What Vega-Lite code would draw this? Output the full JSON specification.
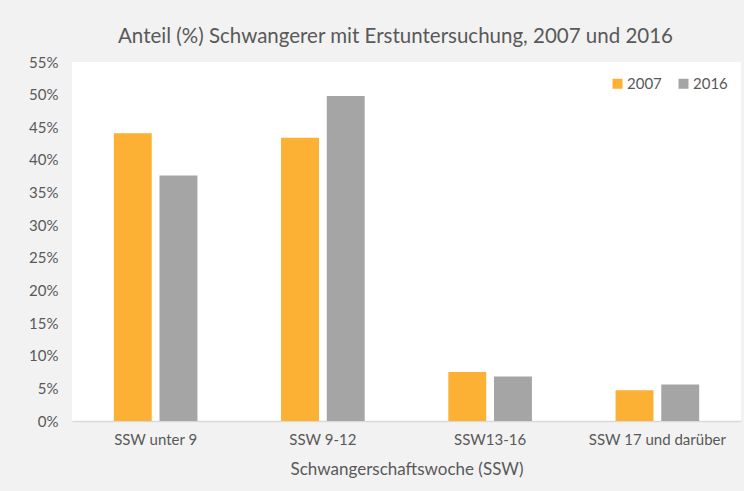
{
  "$schema": "https://vega.github.io/schema/vega-lite/v6.json",
  "width": 669,
  "height": 359,
  "autosize": {"type": "none"},
  "padding": {"left": 72, "top": 62, "right": 3, "bottom": 70},
  "background": "#f2f2f2",
  "title": {
    "text": "Anteil (%) Schwangerer mit Erstuntersuchung, 2007 und 2016",
    "font": "Lato",
    "fontSize": 20.5,
    "fontWeight": "normal",
    "color": "#595959",
    "anchor": "middle",
    "dx": -11,
    "offset": 8
  },
  "data": {
    "values": [
      {"woche": "SSW unter 9", "jahr": "2007", "anteil": 0.441},
      {"woche": "SSW unter 9", "jahr": "2016", "anteil": 0.376},
      {"woche": "SSW 9-12", "jahr": "2007", "anteil": 0.434},
      {"woche": "SSW 9-12", "jahr": "2016", "anteil": 0.498},
      {"woche": "SSW13-16", "jahr": "2007", "anteil": 0.075},
      {"woche": "SSW13-16", "jahr": "2016", "anteil": 0.068},
      {"woche": "SSW 17 und darüber", "jahr": "2007", "anteil": 0.047},
      {"woche": "SSW 17 und darüber", "jahr": "2016", "anteil": 0.056}
    ]
  },
  "mark": {"type": "bar"},
  "encoding": {
    "x": {
      "field": "woche",
      "type": "nominal",
      "sort": ["SSW unter 9", "SSW 9-12", "SSW13-16", "SSW 17 und darüber"],
      "scale": {"paddingInner": 0.5, "paddingOuter": 0.25},
      "axis": {
        "title": "Schwangerschaftswoche (SSW)",
        "labelAngle": 0,
        "labelFont": "Lato",
        "labelFontSize": 15,
        "labelColor": "#595959",
        "labelPadding": 11,
        "titleFont": "Lato",
        "titleFontSize": 17,
        "titleFontWeight": "normal",
        "titleColor": "#595959",
        "titlePadding": 14,
        "ticks": false,
        "domainColor": "#d9d9d9",
        "domainWidth": 1.5
      }
    },
    "xOffset": {
      "field": "jahr",
      "type": "nominal",
      "scale": {"paddingInner": 0.17, "paddingOuter": 0}
    },
    "y": {
      "field": "anteil",
      "type": "quantitative",
      "scale": {"domain": [0, 0.55], "nice": false},
      "axis": {
        "title": null,
        "values": [0, 0.05, 0.1, 0.15, 0.2, 0.25, 0.3, 0.35, 0.4, 0.45, 0.5, 0.55],
        "format": ".0%",
        "grid": false,
        "domain": false,
        "ticks": false,
        "labelFont": "Lato",
        "labelFontSize": 15,
        "labelColor": "#595959",
        "labelPadding": 14
      }
    },
    "color": {
      "field": "jahr",
      "type": "nominal",
      "scale": {"domain": ["2007", "2016"], "range": ["#fcb034", "#a5a5a5"]},
      "legend": {
        "title": null,
        "orient": "none",
        "legendX": 538,
        "legendY": 14,
        "direction": "horizontal",
        "symbolType": "square",
        "symbolSize": 100,
        "symbolStrokeWidth": 0,
        "labelFont": "Lato",
        "labelFontSize": 15,
        "labelColor": "#595959",
        "labelOffset": 2,
        "columnPadding": 14
      }
    }
  },
  "config": {
    "view": {"stroke": null, "fill": "#ffffff"}
  }
}
